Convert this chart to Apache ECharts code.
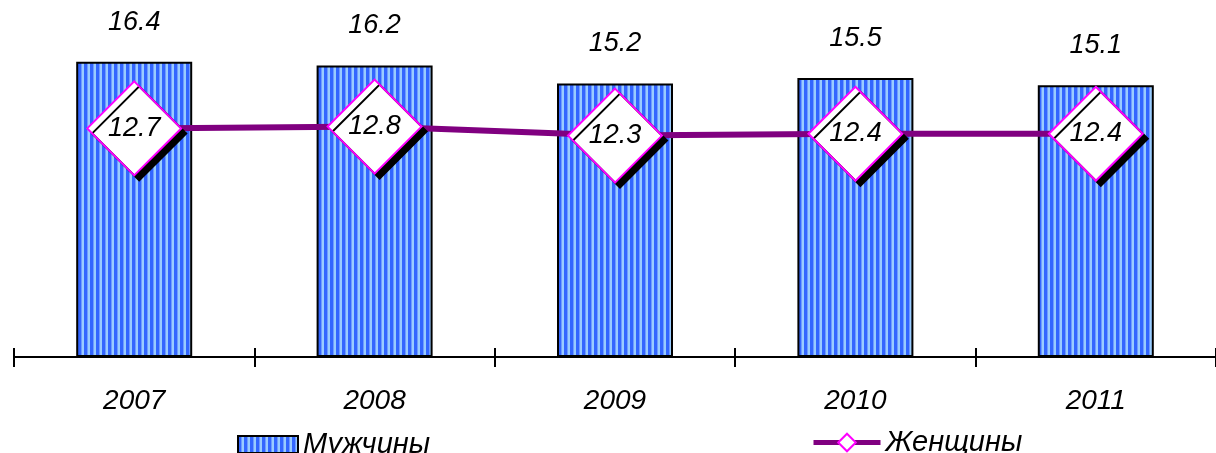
<!DOCTYPE html>
<html>
<head>
<meta charset="utf-8">
<script src="https://cdn.jsdelivr.net/npm/echarts@6/dist/echarts.min.js"></script>
<style>
html,body{margin:0;padding:0;background:#fff;}
#chart{width:1216px;height:453px;}
</style>
</head>
<body>
<div id="chart"></div>
<script>
const categories = ['2007', '2008', '2009', '2010', '2011'];
const menValues = [16.4, 16.2, 15.2, 15.5, 15.1];
const womenValues = [12.7, 12.8, 12.3, 12.4, 12.4];
const seriesNames = ['Мужчины', 'Женщины'];

const FONT = '"Liberation Sans", Arial, sans-serif';

// vertical stripe pattern
const pat = document.createElement('canvas');
pat.width = 6; pat.height = 8;
const pc = pat.getContext('2d');
pc.fillStyle = '#3366FF'; pc.fillRect(0, 0, 6, 8);
pc.fillStyle = '#6F9BFF'; pc.fillRect(3, 0, 1, 8);
pc.fillStyle = '#99CCFF'; pc.fillRect(4, 0, 2, 8);

const chart = echarts.init(document.getElementById('chart'), null, {renderer: 'canvas'});
const labelStyle = {fontFamily: FONT, fontStyle: 'italic', fontSize: 27, color: '#000'};

chart.setOption({
  animation: false,
  grid: {left: 14, right: -8, top: 15, bottom: 96, containLabel: false},
  legend: [
    {data: [{name: seriesNames[0], icon: 'rect'}], left: 237, top: 430, padding: 0, itemWidth: 60, itemHeight: 17, itemGap: 0,
     textStyle: {fontFamily: FONT, fontStyle: 'italic', fontSize: 29, color: '#000'}},
    {data: [seriesNames[1]], left: 811, top: 428, padding: 0, itemWidth: 67, itemHeight: 22, itemGap: 0,
     lineStyle: {color: '#800080', width: 5},
     itemStyle: {shadowColor: 'transparent', shadowOffsetX: 0, shadowOffsetY: 0},
     textStyle: {fontFamily: FONT, fontStyle: 'italic', fontSize: 29, color: '#000'}}
  ],
  xAxis: [
    {type: 'category', data: categories, boundaryGap: true, position: 'bottom',
     axisLine: {lineStyle: {color: '#000', width: 2}},
     axisTick: {show: true, inside: false, length: 10, lineStyle: {color: '#000', width: 2}},
     axisLabel: {fontFamily: FONT, fontStyle: 'italic', fontSize: 28, color: '#000', margin: 30}},
    {type: 'category', data: categories, boundaryGap: true, position: 'bottom', gridIndex: 0,
     axisLine: {show: false},
     axisTick: {show: true, inside: true, length: 9, lineStyle: {color: '#000', width: 2}},
     axisLabel: {show: false}}
  ],
  yAxis: {type: 'value', min: 0, max: 19, show: false, splitLine: {show: false}},
  series: [
    {name: seriesNames[0], type: 'bar', data: menValues, barWidth: 116, xAxisIndex: 0,
     itemStyle: {color: {image: pat, repeat: 'repeat'}, borderColor: '#000', borderWidth: 2},
     label: Object.assign({show: true, position: 'top', distance: 26, formatter: p => p.value.toFixed(1)}, labelStyle)},
    {name: seriesNames[1], type: 'line', data: womenValues, xAxisIndex: 0,
     symbol: 'diamond', symbolSize: [94, 94],
     lineStyle: {color: '#800080', width: 6},
     itemStyle: {color: '#fff', borderColor: '#FF00FF', borderWidth: 2,
                 shadowColor: '#000', shadowBlur: 0, shadowOffsetX: 5, shadowOffsetY: 5},
     label: Object.assign({show: true, position: 'inside', formatter: p => p.value.toFixed(1)}, labelStyle),
     z: 3}
  ]
});
</script>
</body>
</html>
